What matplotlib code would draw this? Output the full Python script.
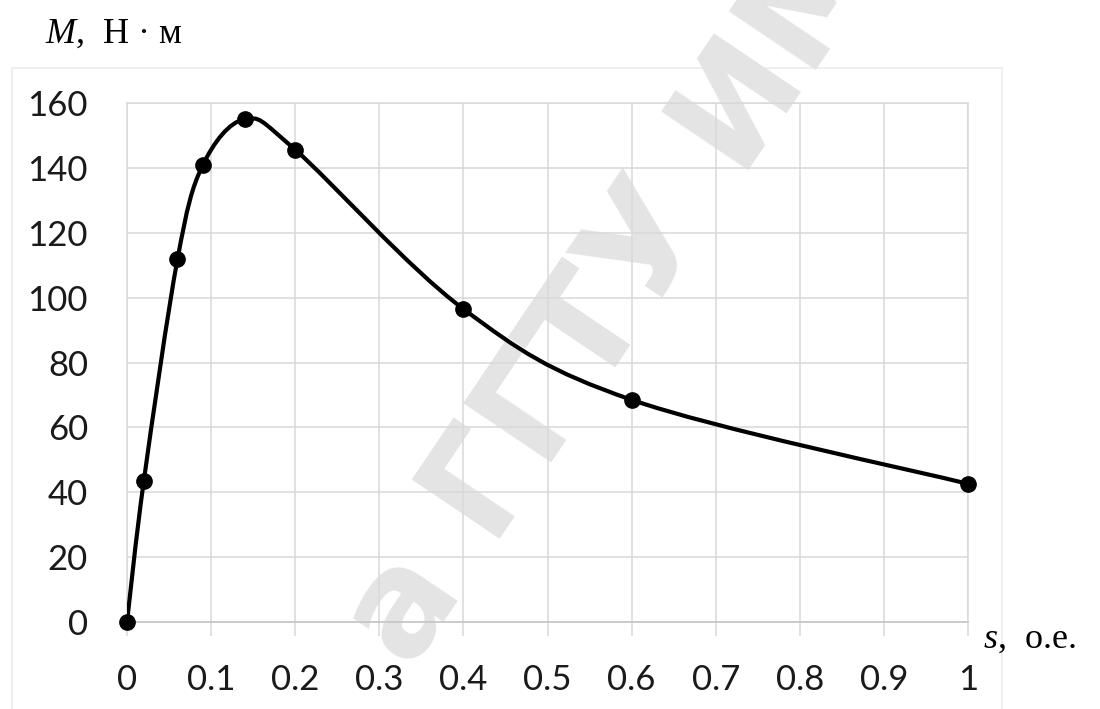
import numpy as np
import matplotlib
matplotlib.use("Agg")
import matplotlib.pyplot as plt
from matplotlib.path import Path
from matplotlib.patches import PathPatch, Rectangle

# slip s (p.u.) and torque M (N*m)
s_vals = [0.0, 0.02, 0.06, 0.09, 0.14, 0.2, 0.4, 0.6, 1.0]
m_vals = [0.0, 43.5, 111.8, 140.8, 155.0, 145.6, 96.5, 68.5, 42.6]

x_ticks = [0, 0.1, 0.2, 0.3, 0.4, 0.5, 0.6, 0.7, 0.8, 0.9, 1]
x_labels = ['0', '0.1', '0.2', '0.3', '0.4', '0.5', '0.6', '0.7', '0.8', '0.9', '1']
y_ticks = [0, 20, 40, 60, 80, 100, 120, 140, 160]

grid_col = '#d9d9d9'

plt.rcParams['mathtext.fontset'] = 'custom'
plt.rcParams['mathtext.it'] = 'Liberation Serif:italic'
plt.rcParams['mathtext.rm'] = 'Liberation Serif'


def smooth_path(x, y, t=1.0 / 6):
    # bezier segments, excel-like smoothed line
    pts = np.column_stack([x, y])
    n = len(pts)
    verts = [pts[0]]
    codes = [Path.MOVETO]
    for i in range(n - 1):
        p0 = pts[max(i - 1, 0)]
        p1 = pts[i]
        p2 = pts[i + 1]
        p3 = pts[min(i + 2, n - 1)]
        c1 = p1 + (p2 - p0) * t
        c2 = p2 - (p3 - p1) * t
        verts += [c1, c2, p2]
        codes += [Path.CURVE4] * 3
    return Path(verts, codes)


fig = plt.figure(figsize=(11, 7.09), dpi=100)

# outer chart frame
fig.patches.append(Rectangle((12 / 1100, -0.01), 990 / 1100, (709 - 68) / 709 + 0.01,
                             transform=fig.transFigure, fill=False,
                             edgecolor='#ececec', lw=1.2, zorder=-5))

# watermark
fig.text(410 / 1100, 1 - 672 / 709, 'а ГГТУ ИМ.П.О.СУХОГО', rotation=56,
         rotation_mode='anchor', ha='left', va='baseline', fontsize=104,
         fontweight='bold', family=['Liberation Sans Narrow', 'DejaVu Sans'],
         color='#e4e4e4', zorder=-2)

ax = fig.add_axes([127 / 1100, 1 - 622 / 709, 841 / 1100, 519 / 709])
ax.patch.set_alpha(0)

ax.set_xlim(0, 1)
ax.set_ylim(0, 160)
ax.set_xticks(x_ticks)
ax.set_xticklabels(x_labels)
ax.set_yticks(y_ticks)

ax.grid(True, color=grid_col, lw=1.1)
ax.set_axisbelow(True)
for side in ['left', 'right', 'top']:
    ax.spines[side].set_color(grid_col)
    ax.spines[side].set_linewidth(1.1)
ax.spines['bottom'].set_color('#c8c8c8')
ax.spines['bottom'].set_linewidth(1.3)

ax.tick_params(axis='x', direction='out', length=10, width=1.1, color=grid_col,
               pad=20, labelsize=25, labelcolor='#1a1a1a')
ax.tick_params(axis='y', length=0, pad=28, labelsize=25, labelcolor='#1a1a1a')
for lab in ax.get_xticklabels() + ax.get_yticklabels():
    lab.set_family('Lato')

ax.add_patch(PathPatch(smooth_path(s_vals, m_vals), facecolor='none',
                       edgecolor='black', lw=3, zorder=3))
ax.plot(s_vals, m_vals, 'o', color='black', ms=11, zorder=4, clip_on=False)

fig.text(45 / 1100, 1 - 43 / 709, '$M$,  Н · м', fontsize=26,
         family='Liberation Serif', ha='left', va='baseline')
fig.text(983 / 1100, 1 - 648 / 709, '$s$,  о.е.', fontsize=26,
         family='Liberation Serif', ha='left', va='baseline')

fig.savefig('out.png', dpi=100)
